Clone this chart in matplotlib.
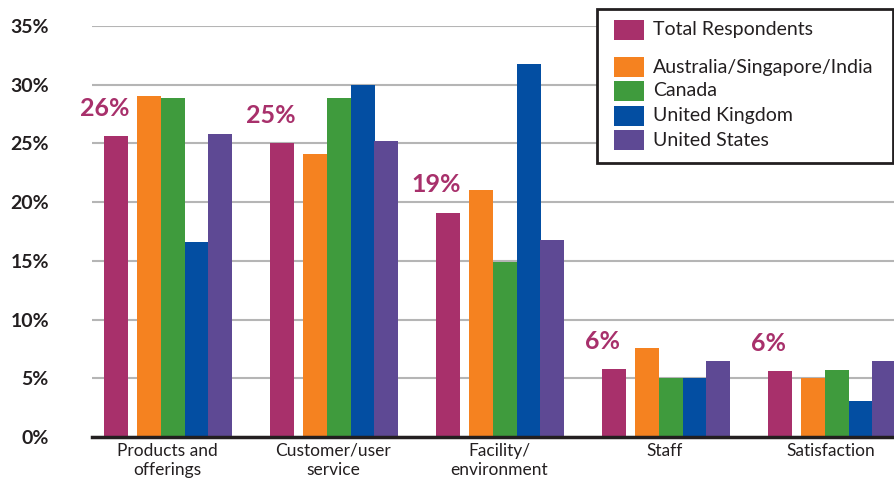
import matplotlib.pyplot as plt
import matplotlib.patches as mpatches
import numpy as np

plt.rcParams['font.family'] = ['Lato', 'DejaVu Sans']

categories = ['Products and\nofferings', 'Customer/user\nservice', 'Facility/\nenvironment', 'Staff', 'Satisfaction']
series = ['Total Respondents', 'Australia/Singapore/India', 'Canada', 'United Kingdom', 'United States']
total = [25.6, 25.0, 19.1, 5.8, 5.6]
aus_sg_in = [29.0, 24.1, 21.0, 7.6, 5.0]
canada = [28.9, 28.9, 14.9, 5.0, 5.7]
uk = [16.6, 30.0, 31.8, 5.0, 3.1]
us = [25.8, 25.2, 16.8, 6.5, 6.5]
yticks = [0, 5, 10, 15, 20, 25, 30, 35]

values = [total, aus_sg_in, canada, uk, us]
colors = ['#A8306B', '#F58220', '#3F9B3D', '#034EA2', '#5E4994']
offsets = [0.0, 0.199, 0.343, 0.488, 0.627]
width = 0.145

fig = plt.figure(figsize=(8.95, 4.82), dpi=100)
ax = fig.add_axes([92 / 895, 45 / 482, 1 - 92 / 895, (437 - 26) / 482])

x = np.arange(len(categories))
for vals, col, off in zip(values, colors, offsets):
    ax.bar(x + off, vals, width, color=col, zorder=3)

# rounded callouts above the total bars
for xi, v in zip(x, total):
    ax.annotate('%d%%' % round(v), (xi - 0.07, v), xytext=(0, 20), textcoords='offset points',
                color='#A8306B', fontsize=18, fontweight='bold', ha='center', va='center', zorder=4)

ax.set_xlim(-0.145, 4.693)
ax.set_ylim(0, 35)
ax.set_yticks(yticks)
ax.set_yticklabels(['%d%%' % t for t in yticks], fontsize=14, fontweight='bold', color='#231F20')
ax.set_xticks(x + 0.307)
ax.set_xticklabels(categories, fontsize=12.5, color='#231F20', linespacing=1.3)
ax.tick_params(axis='both', length=0)
ax.tick_params(axis='y', pad=31)
ax.tick_params(axis='x', pad=4)
ax.grid(axis='y', color='#B5B5B5', linewidth=1.5, zorder=0)
for s in ['top', 'right', 'left']:
    ax.spines[s].set_visible(False)
ax.spines['bottom'].set_linewidth(2.5)
ax.spines['bottom'].set_color('#231F20')
ax.spines['bottom'].set_zorder(5)

# legend box, drawn by hand to get the gap after the first entry
W, H = 895, 482
box = mpatches.Rectangle((597 / W, 1 - 163 / H), 296 / W, 154 / H, transform=fig.transFigure,
                         facecolor='white', edgecolor='#231F20', linewidth=2, zorder=10)
fig.patches.append(box)
ys = [30, 67, 91, 116, 140]
for name, col, yy in zip(series, colors, ys):
    fig.patches.append(mpatches.Rectangle((614 / W, 1 - (yy + 10) / H), 30 / W, 20 / H,
                                          transform=fig.transFigure, facecolor=col,
                                          edgecolor='none', zorder=11))
    fig.text(653 / W, 1 - yy / H, name, fontsize=14, color='#231F20', va='center', ha='left', zorder=12)

fig.savefig('out.png', dpi=100)
